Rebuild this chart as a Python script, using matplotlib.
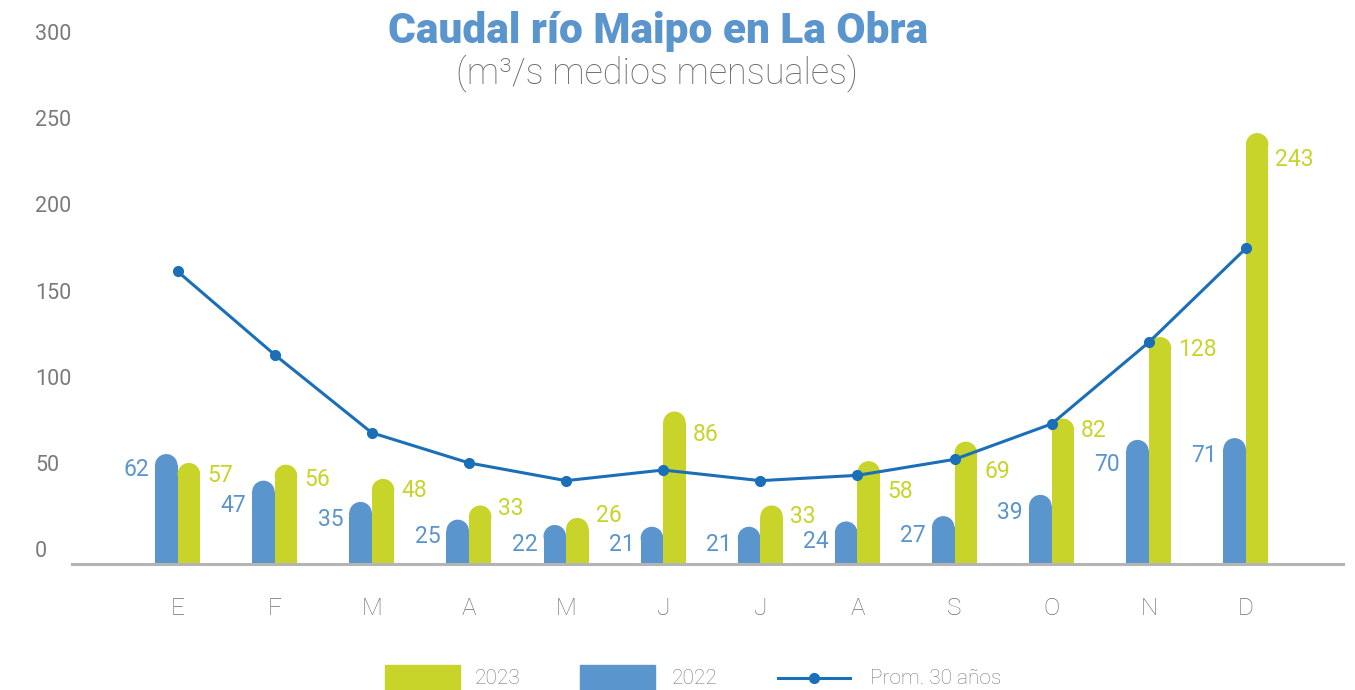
import matplotlib
matplotlib.use("Agg")
import matplotlib.pyplot as plt
from matplotlib.patches import Ellipse, Rectangle
from matplotlib.lines import Line2D

# Data
months = ["E", "F", "M", "A", "M", "J", "J", "A", "S", "O", "N", "D"]
q2022 = [62, 47, 35, 25, 22, 21, 21, 24, 27, 39, 70, 71]
q2023 = [57, 56, 48, 33, 26, 86, 33, 58, 69, 82, 128, 243]
prom30 = [165, 118, 74, 57, 47, 53, 47, 50, 59, 79, 125, 178]
yticks = [0, 50, 100, 150, 200, 250, 300]

# how far (px) each value label sits below its bar top, as in the reference
drop2022 = [15, 25, 18, 17, 20, 18, 18, 20, 19, 18, 25, 17]
drop2023 = [13, 15, 12, 3, -2, 23, 11, 30, 30, 12, 12, 26]

blue = "#5b95cd"
green = "#c8d42a"
line_c = "#1a6fb8"
grey_txt = "#7a7a7a"

W, H = 1355, 690
fig = plt.figure(figsize=(W / 100, H / 100), dpi=100, facecolor="white")

# main axes: baseline at y=564px, 300 at y=32px, x from 72 to 1343px
ax = fig.add_axes([72 / W, (H - 564) / H, (1343 - 72) / W, 532 / H])
ax.set_xlim(-1.087, 12.0)
ax.set_ylim(0, 300)
for s in ["top", "right", "left"]:
    ax.spines[s].set_visible(False)
ax.spines["bottom"].set_color("#b4b4b4")
ax.spines["bottom"].set_linewidth(2.2)
ax.set_yticks([])

x = list(range(len(months)))
bw = 0.232                       # bar width in data units
px_per_unit = 532 / 300          # vertical pixels per m3/s
r = (bw * 97.1 / 2) / px_per_unit  # cap radius in data units

def rounded_bars(xs, vals, color):
    ax.bar(xs, [v - r for v in vals], width=bw, color=color, linewidth=0, zorder=2)
    for xi, v in zip(xs, vals):
        ax.add_patch(Ellipse((xi, v - r), bw, 2 * r, facecolor=color,
                             linewidth=0, zorder=2))

xb = [i - bw / 2 for i in x]
xg = [i + bw / 2 for i in x]
rounded_bars(xb, q2022, blue)
rounded_bars(xg, q2023, green)

# average line
ax.plot(x, prom30, color=line_c, linewidth=2.2, marker="o", markersize=7,
        zorder=4)

# value labels
for xi, v, d in zip(xb, q2022, drop2022):
    ax.annotate("%d" % v, (xi - bw / 2, v), xytext=(-6, -d),
                textcoords="offset pixels", ha="right", va="center",
                color=blue, fontsize=16.5, family="Roboto", zorder=5)
for xi, v, d in zip(xg, q2023, drop2023):
    ax.annotate("%d" % v, (xi + bw / 2, v), xytext=(7, -d),
                textcoords="offset pixels", ha="left", va="center",
                color=green, fontsize=16.5, family="Roboto", zorder=5)

# month labels
ax.set_xticks(x)
ax.set_xticklabels(months, fontsize=17.5, color="#707070", family="Roboto",
                   fontweight="light")
ax.tick_params(axis="x", length=0, pad=24)

# y tick labels sit on their own (slightly different) scale
tick_ax = fig.add_axes(ax.get_position(), facecolor="none")
tick_ax.set_ylim(-8.64, 296.0)
tick_ax.set_xticks([])
for s in tick_ax.spines.values():
    s.set_visible(False)
tick_ax.set_yticks(yticks)
tick_ax.set_yticklabels([str(t) for t in yticks], fontsize=15.5,
                        color=grey_txt, family="Roboto", ha="left")
tick_ax.tick_params(axis="y", length=0, pad=26.5)

# titles
fig.text(658 / W, 1 - 31 / H, "Caudal río Maipo en La Obra", ha="center",
         va="center", fontsize=30.5, fontweight="black", color=blue,
         family="Roboto")
fig.text(657 / W, 1 - 73 / H, "(m³/s medios mensuales)", ha="center",
         va="center", fontsize=26, color="#6e6e6e", family="Roboto",
         fontweight="light")

# legend drawn at the bottom
leg_y = 1 - 678 / H
fig.add_artist(Rectangle((385 / W, 0), 75 / W, 25 / H,
                         transform=fig.transFigure, color=green))
fig.text(475 / W, leg_y, "2023", va="center", ha="left",
         fontsize=15, color=grey_txt, family="Roboto", fontweight="light")
fig.add_artist(Rectangle((580 / W, 0), 75 / W, 25 / H,
                         transform=fig.transFigure, color=blue))
fig.text(672 / W, leg_y, "2022", va="center", ha="left",
         fontsize=15, color=grey_txt, family="Roboto", fontweight="light")
fig.add_artist(Line2D([778 / W, 850 / W], [leg_y, leg_y],
                      transform=fig.transFigure, color=line_c, linewidth=2.2))
fig.add_artist(Line2D([814 / W], [leg_y], transform=fig.transFigure,
                      color=line_c, marker="o", markersize=7))
fig.text(870 / W, leg_y, "Prom. 30 años", va="center", ha="left",
         fontsize=15, color=grey_txt, family="Roboto", fontweight="light")

fig.savefig("out.png", dpi=100)
